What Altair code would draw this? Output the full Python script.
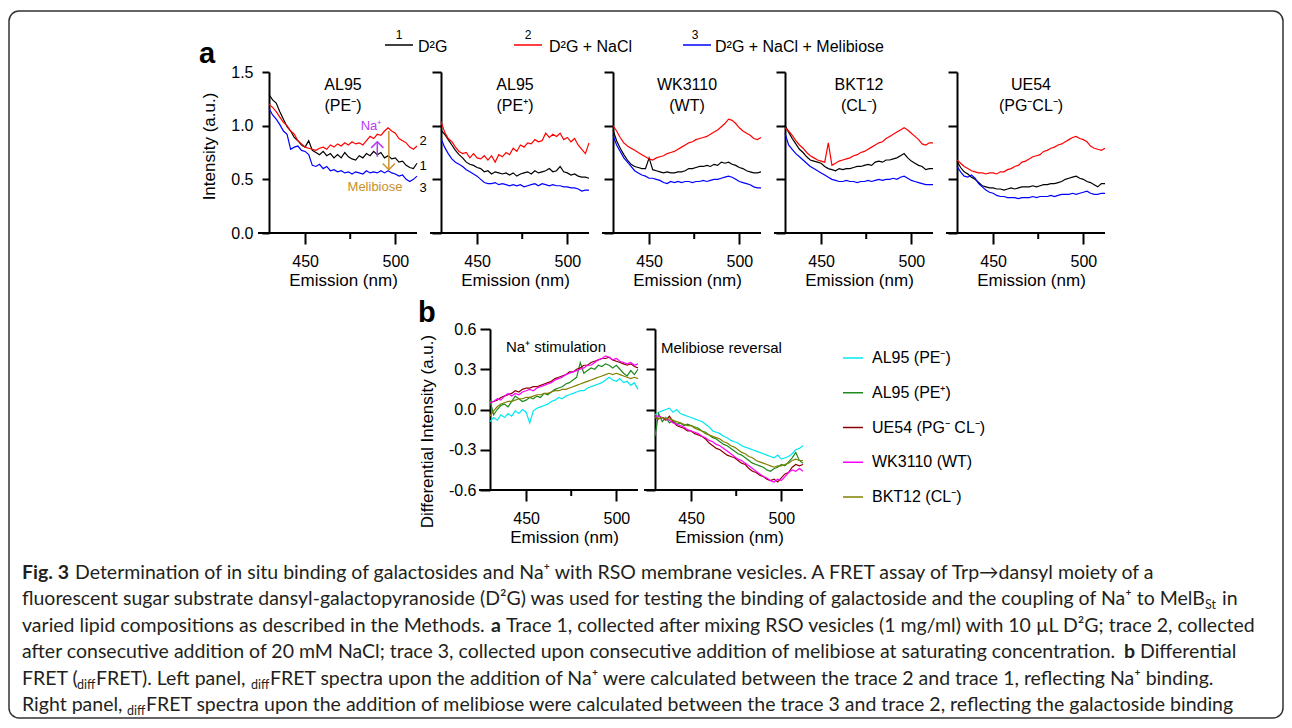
import altair as alt
import pandas as pd

FONT = "Liberation Sans"
CAP_FONT = "Lato"

# ---------------- data ----------------
NM = list(range(430, 513, 2))  # emission wavelength (nm)

TRACE_IDS = ["1", "2", "3"]
TRACE_LABELS = ["D²G", "D²G + NaCl", "D²G + NaCl + Melibiose"]
TRACE_COLORS = ["#000000", "#ff0000", "#0000ff"]

PANEL_NAMES = ["AL95", "AL95", "WK3110", "BKT12", "UE54"]
PANEL_SUBS = ["(PE⁻)", "(PE⁺)", "(WT)", "(CL⁻)", "(PG⁻CL⁻)"]

# AL95 (PE-)
A1_T1 = [1.29, 1.24, 1.21, 1.13, 1.06, 0.99, 0.95, 0.89, 0.86, 0.82,
         0.80, 0.86, 0.77, 0.75, 0.73, 0.76, 0.72, 0.74, 0.70, 0.73,
         0.70, 0.75, 0.71, 0.69, 0.68, 0.72, 0.70, 0.74, 0.72, 0.76,
         0.73, 0.75, 0.70, 0.72, 0.69, 0.70, 0.66, 0.67, 0.63, 0.61,
         0.60, 0.65]
A1_T2 = [1.20, 1.17, 1.13, 1.08, 1.03, 1.00, 0.95, 0.92, 0.86, 0.83,
         0.80, 0.79, 0.78, 0.77, 0.79, 0.80, 0.78, 0.82, 0.80, 0.83,
         0.81, 0.84, 0.82, 0.85, 0.83, 0.84, 0.82, 0.86, 0.90, 0.88,
         0.92, 0.91, 0.95, 0.98, 0.95, 0.93, 0.88, 0.86, 0.84, 0.80,
         0.78, 0.81]
A1_T3 = [1.16, 1.10, 1.06, 1.01, 0.95, 0.92, 0.78, 0.80, 0.81, 0.77,
         0.76, 0.73, 0.63, 0.62, 0.64, 0.60, 0.62, 0.58, 0.59, 0.57,
         0.58, 0.56, 0.57, 0.55, 0.57, 0.56, 0.55, 0.58, 0.56, 0.57,
         0.56, 0.58, 0.56, 0.58, 0.56, 0.55, 0.53, 0.54, 0.50, 0.48,
         0.50, 0.53]
# AL95 (PE+)
A2_T1 = [0.96, 0.92, 0.87, 0.82, 0.77, 0.73, 0.70, 0.66, 0.64, 0.63,
         0.61, 0.60, 0.57, 0.58, 0.55, 0.57, 0.56, 0.55, 0.56, 0.54,
         0.56, 0.53, 0.55, 0.56, 0.57, 0.55, 0.58, 0.56, 0.57, 0.58,
         0.60, 0.57, 0.58, 0.62, 0.57, 0.56, 0.54, 0.55, 0.53, 0.52,
         0.52, 0.51]
A2_T2 = [1.04, 0.94, 0.88, 0.85, 0.80, 0.76, 0.74, 0.75, 0.70, 0.74,
         0.70, 0.69, 0.72, 0.68, 0.72, 0.66, 0.73, 0.71, 0.75, 0.73,
         0.79, 0.76, 0.82, 0.80, 0.84, 0.83, 0.87, 0.85, 0.86, 0.93,
         0.89, 0.92, 0.90, 0.93, 0.87, 0.89, 0.85, 0.88, 0.82, 0.78,
         0.74, 0.84]
A2_T3 = [0.88, 0.80, 0.74, 0.69, 0.66, 0.64, 0.62, 0.59, 0.57, 0.55,
         0.53, 0.50, 0.47, 0.46, 0.46, 0.47, 0.45, 0.46, 0.45, 0.44,
         0.45, 0.44, 0.45, 0.43, 0.44, 0.45, 0.46, 0.44, 0.46, 0.45,
         0.44, 0.45, 0.44, 0.44, 0.43, 0.43, 0.42, 0.42, 0.41, 0.39,
         0.40, 0.40]
# WK3110 (WT)
A3_T1 = [0.96, 0.86, 0.79, 0.73, 0.68, 0.64, 0.62, 0.61, 0.60, 0.60,
         0.70, 0.59, 0.58, 0.57, 0.56, 0.57, 0.56, 0.56, 0.57, 0.57,
         0.58, 0.60, 0.60, 0.61, 0.62, 0.62, 0.63, 0.62, 0.64, 0.63,
         0.66, 0.65, 0.66, 0.64, 0.63, 0.61, 0.60, 0.58, 0.57, 0.56,
         0.56, 0.57]
A3_T2 = [1.00, 0.95, 0.89, 0.84, 0.81, 0.79, 0.77, 0.75, 0.73, 0.71,
         0.69, 0.68, 0.70, 0.71, 0.72, 0.74, 0.75, 0.76, 0.78, 0.80,
         0.82, 0.84, 0.85, 0.87, 0.88, 0.89, 0.90, 0.92, 0.94, 0.96,
         0.99, 1.02, 1.06, 1.05, 1.02, 0.98, 0.95, 0.93, 0.91, 0.88,
         0.87, 0.89]
A3_T3 = [0.91, 0.82, 0.76, 0.70, 0.66, 0.62, 0.58, 0.56, 0.54, 0.53,
         0.51, 0.51, 0.50, 0.49, 0.47, 0.46, 0.48, 0.47, 0.48, 0.47,
         0.48, 0.48, 0.47, 0.48, 0.48, 0.49, 0.48, 0.49, 0.50, 0.50,
         0.51, 0.52, 0.53, 0.52, 0.50, 0.48, 0.47, 0.46, 0.45, 0.43,
         0.42, 0.42]
# BKT12 (CL-)
A4_T1 = [1.00, 0.94, 0.88, 0.83, 0.78, 0.75, 0.71, 0.68, 0.67, 0.66,
         0.65, 0.62, 0.60, 0.59, 0.58, 0.60, 0.59, 0.60, 0.60, 0.61,
         0.62, 0.62, 0.63, 0.64, 0.63, 0.66, 0.67, 0.66, 0.68, 0.68,
         0.69, 0.70, 0.72, 0.74, 0.70, 0.67, 0.65, 0.63, 0.62, 0.59,
         0.60, 0.60]
A4_T2 = [0.98, 0.95, 0.91, 0.86, 0.82, 0.79, 0.75, 0.72, 0.70, 0.68,
         0.67, 0.66, 0.84, 0.63, 0.65, 0.67, 0.68, 0.69, 0.70, 0.72,
         0.73, 0.75, 0.76, 0.78, 0.80, 0.82, 0.84, 0.85, 0.88, 0.90,
         0.92, 0.94, 0.96, 0.98, 0.96, 0.93, 0.90, 0.87, 0.83, 0.82,
         0.84, 0.84]
A4_T3 = [0.93, 0.82, 0.78, 0.74, 0.71, 0.68, 0.65, 0.62, 0.60, 0.58,
         0.56, 0.54, 0.52, 0.50, 0.49, 0.48, 0.48, 0.49, 0.48, 0.48,
         0.47, 0.48, 0.48, 0.49, 0.48, 0.49, 0.50, 0.49, 0.50, 0.50,
         0.51, 0.50, 0.52, 0.53, 0.51, 0.49, 0.48, 0.47, 0.46, 0.45,
         0.45, 0.45]
# UE54 (PG-CL-)
A5_T1 = [0.67, 0.61, 0.57, 0.55, 0.52, 0.50, 0.47, 0.44, 0.43, 0.42,
         0.42, 0.41, 0.41, 0.40, 0.41, 0.42, 0.41, 0.42, 0.43, 0.43,
         0.43, 0.44, 0.43, 0.44, 0.45, 0.45, 0.46, 0.46, 0.47, 0.48,
         0.50, 0.51, 0.52, 0.53, 0.51, 0.50, 0.48, 0.47, 0.45, 0.43,
         0.46, 0.46]
A5_T2 = [0.68, 0.65, 0.62, 0.60, 0.58, 0.57, 0.56, 0.56, 0.55, 0.56,
         0.56, 0.55, 0.57, 0.57, 0.59, 0.60, 0.62, 0.63, 0.66, 0.67,
         0.69, 0.71, 0.72, 0.73, 0.76, 0.77, 0.79, 0.80, 0.82, 0.83,
         0.85, 0.87, 0.89, 0.90, 0.88, 0.87, 0.85, 0.81, 0.79, 0.78,
         0.77, 0.79]
A5_T3 = [0.62, 0.57, 0.53, 0.52, 0.54, 0.51, 0.46, 0.43, 0.40, 0.38,
         0.37, 0.35, 0.34, 0.34, 0.33, 0.33, 0.33, 0.32, 0.33, 0.33,
         0.33, 0.34, 0.33, 0.34, 0.34, 0.34, 0.35, 0.34, 0.35, 0.36,
         0.36, 0.36, 0.37, 0.36, 0.37, 0.38, 0.39, 0.37, 0.36, 0.36,
         0.37, 0.37]

A_SERIES = [(A1_T1, A1_T2, A1_T3), (A2_T1, A2_T2, A2_T3), (A3_T1, A3_T2, A3_T3),
            (A4_T1, A4_T2, A4_T3), (A5_T1, A5_T2, A5_T3)]

# annotation arrows in first panel (nm, start value, tip value)
ARROW_NM = [490, 496.4]
ARROW_FROM = [0.71, 0.95]
ARROW_TO = [0.85, 0.59]
ARROW_COLORS = ["#b43cf0", "#c8902a"]
ARROW_LABELS = ["Na⁺", "Melibiose"]

STRAINS = ["AL95 (PE⁻)", "AL95 (PE⁺)", "UE54 (PG⁻ CL⁻)", "WK3110 (WT)", "BKT12 (CL⁻)"]
STRAIN_COLORS = ["#00e8f0", "#1e8a1e", "#8b0000", "#ff00ff", "#808000"]

NA_AL95_PEM = [-0.09, -0.06, -0.08, -0.04, -0.06, -0.03, -0.05, -0.01, -0.03, 0.00,
               -0.02, -0.10, -0.01, 0.01, 0.02, 0.03, 0.04, 0.06, 0.07, 0.09,
               0.08, 0.10, 0.11, 0.12, 0.13, 0.14, 0.14, 0.16, 0.17, 0.18,
               0.19, 0.20, 0.22, 0.24, 0.22, 0.21, 0.23, 0.20, 0.21, 0.18,
               0.20, 0.15]
NA_AL95_PEP = [0.07, -0.04, 0.00, 0.03, 0.04, 0.02, 0.06, 0.10, 0.08, 0.06,
               0.07, 0.09, 0.08, 0.10, 0.09, 0.12, 0.11, 0.13, 0.15, 0.16,
               0.17, 0.19, 0.20, 0.22, 0.24, 0.35, 0.27, 0.29, 0.31, 0.30,
               0.33, 0.32, 0.34, 0.33, 0.31, 0.33, 0.30, 0.27, 0.25, 0.29,
               0.26, 0.30]
NA_UE54 = [0.05, 0.06, 0.07, 0.09, 0.10, 0.11, 0.12, 0.14, 0.13, 0.15,
           0.16, 0.16, 0.17, 0.17, 0.18, 0.19, 0.20, 0.21, 0.23, 0.24,
           0.25, 0.26, 0.28, 0.28, 0.30, 0.31, 0.33, 0.33, 0.35, 0.36,
           0.37, 0.38, 0.38, 0.39, 0.37, 0.36, 0.35, 0.34, 0.33, 0.34,
           0.32, 0.31]
NA_WK3110 = [0.05, 0.06, 0.08, 0.07, 0.10, 0.12, 0.10, 0.12, 0.11, 0.13,
             0.14, 0.15, 0.14, 0.16, 0.17, 0.18, 0.19, 0.20, 0.22, 0.23,
             0.24, 0.26, 0.27, 0.28, 0.29, 0.30, 0.31, 0.33, 0.33, 0.35,
             0.37, 0.38, 0.40, 0.39, 0.37, 0.38, 0.36, 0.35, 0.34, 0.35,
             0.33, 0.34]
NA_BKT12 = [-0.05, -0.01, 0.02, 0.04, 0.05, 0.06, 0.06, 0.07, 0.08, 0.08,
            0.09, 0.09, 0.10, 0.11, 0.11, 0.12, 0.12, 0.13, 0.14, 0.14,
            0.15, 0.15, 0.16, 0.17, 0.18, 0.19, 0.20, 0.21, 0.22, 0.23,
            0.24, 0.25, 0.26, 0.27, 0.26, 0.27, 0.26, 0.25, 0.24, 0.23,
            0.24, 0.23]

MEL_AL95_PEM = [-0.04, -0.02, -0.01, 0.00, 0.01, -0.02, 0.00, -0.03, -0.04, -0.05,
                -0.06, -0.07, -0.08, -0.09, -0.11, -0.13, -0.16, -0.17, -0.18, -0.20,
                -0.21, -0.23, -0.24, -0.25, -0.27, -0.28, -0.29, -0.30, -0.31, -0.32,
                -0.33, -0.34, -0.35, -0.36, -0.34, -0.37, -0.36, -0.35, -0.33, -0.30,
                -0.29, -0.27]
MEL_AL95_PEP = [-0.20, -0.03, -0.09, -0.06, -0.10, -0.08, -0.11, -0.10, -0.12, -0.11,
                -0.12, -0.13, -0.14, -0.16, -0.17, -0.19, -0.21, -0.22, -0.24, -0.26,
                -0.27, -0.29, -0.31, -0.33, -0.34, -0.36, -0.38, -0.40, -0.41, -0.42,
                -0.43, -0.45, -0.46, -0.44, -0.43, -0.41, -0.42, -0.39, -0.36, -0.32,
                -0.38, -0.40]
MEL_UE54 = [-0.06, -0.07, -0.06, -0.08, -0.05, -0.09, -0.12, -0.13, -0.14, -0.16,
            -0.16, -0.18, -0.19, -0.20, -0.22, -0.25, -0.27, -0.29, -0.30, -0.32,
            -0.34, -0.35, -0.36, -0.38, -0.40, -0.41, -0.44, -0.46, -0.47, -0.49,
            -0.50, -0.52, -0.53, -0.52, -0.54, -0.51, -0.48, -0.47, -0.43, -0.41,
            -0.42, -0.41]
MEL_WK3110 = [-0.05, -0.05, -0.06, -0.07, -0.08, -0.10, -0.11, -0.12, -0.13, -0.15,
              -0.16, -0.17, -0.18, -0.20, -0.21, -0.23, -0.24, -0.26, -0.27, -0.29,
              -0.31, -0.33, -0.35, -0.37, -0.38, -0.40, -0.42, -0.44, -0.46, -0.48,
              -0.50, -0.51, -0.53, -0.54, -0.52, -0.53, -0.50, -0.47, -0.45, -0.46,
              -0.44, -0.46]
MEL_BKT12 = [-0.06, -0.07, -0.06, -0.07, -0.07, -0.08, -0.09, -0.10, -0.11, -0.12,
             -0.12, -0.14, -0.15, -0.16, -0.18, -0.19, -0.20, -0.21, -0.22, -0.24,
             -0.25, -0.27, -0.28, -0.30, -0.32, -0.33, -0.35, -0.36, -0.38, -0.39,
             -0.40, -0.41, -0.42, -0.43, -0.42, -0.42, -0.41, -0.40, -0.38, -0.37,
             -0.38, -0.38]

B_SERIES = [[NA_AL95_PEM, NA_AL95_PEP, NA_UE54, NA_WK3110, NA_BKT12],
            [MEL_AL95_PEM, MEL_AL95_PEP, MEL_UE54, MEL_WK3110, MEL_BKT12]]
B_TITLES = ["Na⁺ stimulation", "Melibiose reversal"]

CAPTION_SEGMENTS = [
    (0, "Fig. 3", "bold"),
    (0, "Determination of in situ binding of galactosides and Na⁺ with RSO membrane vesicles. A FRET assay of Trp→dansyl moiety of a", "normal"),
    (1, "fluorescent sugar substrate dansyl-galactopyranoside (D²G) was used for testing the binding of galactoside and the coupling of Na⁺ to MelB", "normal"),
    (1, "St", "sub"),
    (1, "in", "normal"),
    (2, "varied lipid compositions as described in the Methods.", "normal"),
    (2, "a", "bold"),
    (2, "Trace 1, collected after mixing RSO vesicles (1 mg/ml) with 10 µL D²G; trace 2, collected", "normal"),
    (3, "after consecutive addition of 20 mM NaCl; trace 3, collected upon consecutive addition of melibiose at saturating concentration.", "normal"),
    (3, "b", "bold"),
    (3, "Differential", "normal"),
    (4, "FRET (", "normal"),
    (4, "diff", "sub"),
    (4, "FRET). Left panel,", "normal"),
    (4, "diff", "sub"),
    (4, "FRET spectra upon the addition of Na⁺ were calculated between the trace 2 and trace 1, reflecting Na⁺ binding.", "normal"),
    (5, "Right panel,", "normal"),
    (5, "diff", "sub"),
    (5, "FRET spectra upon the addition of melibiose were calculated between the trace 3 and trace 2, reflecting the galactoside binding", "normal"),
]

# ---------------- layout constants (pixels) ----------------
W, H = 148, 161
COL_GAP, ROW_GAP = 24, 96
ORIGIN_X, CAP_ORIGIN_Y = 269, 586           # page position of caption cell origin
B_SHIFT = [49, 42]                          # offset of panel b plots inside their grid cells
LEG_SHIFT = 42
CAP_SEG_X = [22, 75, 22, 1205, 1222, 22, 491, 506, 22, 1124, 1140,
             22, 77, 96, 251, 270, 22, 127, 146]
CAP_BASELINES = [578.5, 605, 631.5, 658, 684.5, 711]
CAP_FS, CAP_SUB_FS = 19.5, 12.5

ONE = pd.DataFrame({"k": [0]})


def common_axis():
    return dict(domainColor="black", domainWidth=2, tickColor="black", tickWidth=2,
                labelColor="black", titleColor="black", labelFont=FONT, titleFont=FONT,
                labelFontSize=16, titleFontSize=17, titleFontWeight="normal", grid=False)


def x_enc(shift=0):
    return alt.X("nm:Q",
                 scale=alt.Scale(domain=[430, 512], range=[shift, shift + W], nice=False, zero=False),
                 axis=alt.Axis(values=[450, 500], format="d", domain=False, tickSize=11,
                               labelPadding=9, title="Emission (nm)", titlePadding=3,
                               **common_axis()))


def y_enc(first, domain, values, tick, pad, title, tx, ty, shift=0):
    kw = common_axis()
    if first:
        axis = alt.Axis(values=values, tickSize=tick, labelPadding=pad, title=title,
                        titleX=tx, titleY=ty, titleAngle=270, titleBaseline="middle",
                        titleAlign="center", offset=-shift,
                        labelExpr="datum.value < 0 ? '-' + format(-datum.value, '.1f') : format(datum.value, '.1f')",
                        **kw)
    else:
        axis = alt.Axis(values=values, labels=False, tickSize=9, title="", offset=-shift, **kw)
    return alt.Y("val:Q", scale=alt.Scale(domain=domain, nice=False, zero=False), axis=axis)


def txt(s, x, y, size, color="black", align="center", weight="normal", font=FONT,
        baseline="middle"):
    return alt.Chart(ONE).mark_text(text=s, fontSize=size, color=color, align=align,
                                    fontWeight=weight, font=font, baseline=baseline
                                    ).encode(x=alt.value(x), y=alt.value(y))


def frame(xe, shift=0):
    base = alt.Chart(ONE).mark_rule(color="black", strokeWidth=2).encode(
        x=alt.value(shift - 11), x2=alt.value(shift + W), y=alt.value(H))
    minor = alt.Chart(pd.DataFrame({"nm": [475]})).mark_rule(color="black", strokeWidth=2).encode(
        x=xe, y=alt.value(H), y2=alt.value(H + 6))
    return [base, minor]


def panel_a(i):
    t1, t2, t3 = A_SERIES[i]
    n = len(NM)
    df = pd.DataFrame({"nm": NM * 3, "val": t1 + t2 + t3,
                       "trace": [TRACE_IDS[0]] * n + [TRACE_IDS[1]] * n + [TRACE_IDS[2]] * n})
    xe = x_enc()
    ye = y_enc(i == 0, [0, 1.5], [0, 0.5, 1.0, 1.5], 7, 9, "Intensity (a.u.)", -60, 74)
    lines = alt.Chart(df).mark_line(strokeWidth=1.2).encode(
        x=xe, y=ye,
        color=alt.Color("trace:N", scale=alt.Scale(domain=TRACE_IDS, range=TRACE_COLORS), legend=None))
    layers = [lines] + frame(xe) + [txt(PANEL_NAMES[i], 74, 13, 16), txt(PANEL_SUBS[i], 74, 34, 16)]
    if i == 0:
        for k in range(2):
            adf = pd.DataFrame({"nm": [ARROW_NM[k]], "val": [ARROW_FROM[k]], "val2": [ARROW_TO[k]]})
            layers.append(alt.Chart(adf).mark_rule(color=ARROW_COLORS[k], strokeWidth=1.5).encode(
                x=xe, y=ye, y2="val2:Q"))
            hdf = pd.DataFrame({"nm": [ARROW_NM[k]], "val": [ARROW_TO[k]]})
            shape = "M-1,1L0,0L1,1" if ARROW_TO[k] > ARROW_FROM[k] else "M-1,-1L0,0L1,-1"
            layers.append(alt.Chart(hdf).mark_point(shape=shape, size=150, filled=False,
                                                    strokeWidth=1.5, color=ARROW_COLORS[k],
                                                    opacity=1).encode(x=xe, y=ye))
        layers.append(txt(ARROW_LABELS[0], 102, 54, 13, color=ARROW_COLORS[0]))
        layers.append(txt(ARROW_LABELS[1], 106, 115, 13, color=ARROW_COLORS[1]))
        for lab, yy in zip(["2", "1", "3"], [69, 94, 116]):
            layers.append(txt(lab, 154, yy, 13))
        layers.append(txt("a", -70, -9, 29, weight="bold", align="left", baseline="alphabetic"))
        for k, (rx, nx, lx) in enumerate([(116, 130, 149), (245, 259, 280), (414, 426, 446)]):
            layers.append(alt.Chart(ONE).mark_rule(color=TRACE_COLORS[k], strokeWidth=1.5).encode(
                x=alt.value(rx), x2=alt.value(rx + 28), y=alt.value(-27)))
            layers.append(txt(TRACE_IDS[k], nx, -37, 12))
            layers.append(txt(TRACE_LABELS[k], lx, -25, 16, align="left"))
    return alt.layer(*layers).properties(width=W, height=H)


def panel_b(j):
    s = B_SHIFT[j]
    n = len(NM)
    vals, strains = [], []
    for st, series in zip(STRAINS, B_SERIES[j]):
        vals += series
        strains += [st] * n
    df = pd.DataFrame({"nm": NM * len(STRAINS), "val": vals, "strain": strains})
    xe = x_enc(s)
    ye = y_enc(j == 0, [-0.6, 0.6], [-0.6, -0.3, 0.0, 0.3, 0.6], 10, 4,
               "Differential Intensity (a.u.)", -63, 102, shift=s)
    lines = alt.Chart(df).mark_line(strokeWidth=1.2).encode(
        x=xe, y=ye,
        color=alt.Color("strain:N", scale=alt.Scale(domain=STRAINS, range=STRAIN_COLORS), legend=None))
    layers = [lines] + frame(xe, s)
    if j == 0:
        layers.append(txt(B_TITLES[0], s + 16, 18, 15, align="left"))
        layers.append(txt("b", s - 72, -7, 29, weight="bold", align="left", baseline="alphabetic"))
    else:
        layers.append(txt(B_TITLES[1], s + 6, 19, 15, align="left"))
    return alt.layer(*layers).properties(width=W, height=H)


def legend_b():
    ldf = pd.DataFrame({"strain": STRAINS})
    ly = alt.Y("strain:N", scale=alt.Scale(type="point", domain=STRAINS, range=[29, 168], padding=0),
               axis=None)
    col = alt.Color("strain:N", scale=alt.Scale(domain=STRAINS, range=STRAIN_COLORS), legend=None)
    rules = alt.Chart(ldf).mark_rule(strokeWidth=1.5).encode(
        y=ly, x=alt.value(LEG_SHIFT + 16), x2=alt.value(LEG_SHIFT + 36), color=col)
    texts = alt.Chart(ldf).mark_text(align="left", baseline="middle", font=FONT, fontSize=16,
                                     color="black").encode(y=ly, x=alt.value(LEG_SHIFT + 45),
                                                           text="strain:N")
    return alt.layer(rules, texts).properties(width=W, height=H)


def blank():
    return alt.Chart(ONE).mark_point(opacity=0).encode(
        x=alt.value(0), y=alt.value(0)).properties(width=W, height=H)


def caption():
    layers = [alt.Chart(ONE).mark_rect(fillOpacity=0, stroke="#333333", strokeWidth=1.5,
                                       cornerRadius=10).encode(
        x=alt.value(9 - ORIGIN_X), x2=alt.value(1283 - ORIGIN_X),
        y=alt.value(11 - CAP_ORIGIN_Y), y2=alt.value(718 - CAP_ORIGIN_Y))]
    for (line, text, style), px in zip(CAPTION_SEGMENTS, CAP_SEG_X):
        base = CAP_BASELINES[line] - CAP_ORIGIN_Y
        if style == "sub":
            layers.append(txt(text, px - ORIGIN_X, base + 4, CAP_SUB_FS, color="#231f20",
                              align="left", font=CAP_FONT, baseline="alphabetic"))
        else:
            layers.append(txt(text, px - ORIGIN_X, base, CAP_FS, color="#231f20", align="left",
                              weight=("bold" if style == "bold" else "normal"), font=CAP_FONT,
                              baseline="alphabetic"))
    return alt.layer(*layers).properties(width=W, height=100)


cells = [panel_a(i) for i in range(5)]
cells += [blank(), panel_b(0), panel_b(1), legend_b(), blank()]
cells += [caption()]

chart = alt.concat(*cells, columns=5, spacing={"row": ROW_GAP, "column": COL_GAP},
                   align="none", bounds="flush").resolve_scale(color="independent").properties(
    padding={"left": 0, "top": 2, "right": 0, "bottom": 0}
).configure_view(strokeOpacity=0)

chart.save("out.html", embed_options={"renderer": "svg", "actions": False})
